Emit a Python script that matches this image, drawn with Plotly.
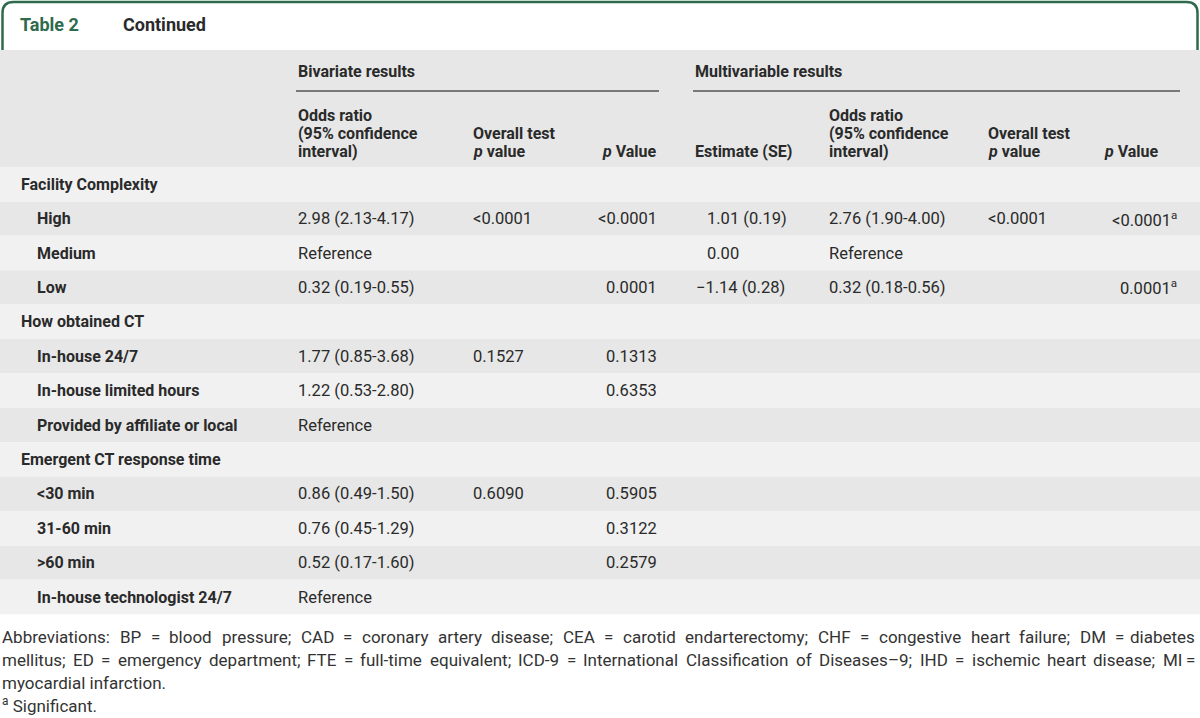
import plotly.graph_objects as go

# ---- table content ----
row_labels = [
    "Facility Complexity", "High", "Medium", "Low",
    "How obtained CT", "In-house 24/7", "In-house limited hours",
    "Provided by affiliate or local",
    "Emergent CT response time", "&lt;30 min", "31-60 min", "&gt;60 min",
    "In-house technologist 24/7",
]
row_is_group = [True, False, False, False, True, False, False, False,
                True, False, False, False, False]

biv_or = ["", "2.98 (2.13-4.17)", "Reference", "0.32 (0.19-0.55)",
          "", "1.77 (0.85-3.68)", "1.22 (0.53-2.80)", "Reference",
          "", "0.86 (0.49-1.50)", "0.76 (0.45-1.29)", "0.52 (0.17-1.60)", "Reference"]
biv_overall = ["", "&lt;0.0001", "", "", "", "0.1527", "", "",
               "", "0.6090", "", "", ""]
biv_p = ["", "&lt;0.0001", "", "0.0001", "", "0.1313", "0.6353", "",
         "", "0.5905", "0.3122", "0.2579", ""]

mv_est = ["", "1.01 (0.19)", "0.00", "−1.14 (0.28)"] + [""] * 9
mv_or = ["", "2.76 (1.90-4.00)", "Reference", "0.32 (0.18-0.56)"] + [""] * 9
mv_overall = ["", "&lt;0.0001", "", ""] + [""] * 9
mv_p = ["", "&lt;0.0001", "", "0.0001"] + [""] * 9
mv_sig = [False, True, False, True] + [False] * 9

group_headers = ["Bivariate results", "Multivariable results"]

footnote_line1 = ("Abbreviations: BP = blood pressure; CAD = coronary artery disease; "
                  "CEA = carotid endarterectomy; CHF = congestive heart failure; DM = diabetes")
footnote_line2 = ("mellitus; ED = emergency department; FTE = full-time equivalent; "
                  "ICD-9 = International Classification of Diseases–9; "
                  "IHD = ischemic heart disease; MI =")
footnote_line3 = "myocardial infarction."
footnote_sig = "<sup>a</sup> Significant."

# ---- layout constants ----
W, H = 1200, 718
GREEN = "#2e6b4c"
TXT = "#2a2a2a"
DARK = "#e6e7e6"
LIGHT = "#f1f1f1"
FONT = "Roboto"
FS = 16

header_top, header_bot = 50, 167
row_h = 34.4

# rough Roboto advance widths (em) – only used to justify the footnote lines
ROBOTO_W = {
    " ": .248, "(": .342, ")": .348, "-": .276, "–": .675, ".": .263, ":": .242,
    ";": .212, "=": .549, "A": .652, "B": .622, "C": .651, "D": .655, "E": .568,
    "F": .553, "H": .713, "I": .272, "M": .873, "P": .632, "T": .610,
    "a": .544, "b": .561, "c": .523, "d": .564, "e": .530, "f": .347, "g": .561,
    "h": .551, "i": .243, "k": .507, "l": .243, "m": .876, "n": .552, "o": .570,
    "p": .561, "q": .568, "r": .338, "s": .516, "t": .327, "u": .551, "v": .484,
    "w": .751, "x": .496, "y": .473, "z": .496,
}

fig = go.Figure()
shapes = []
ann = []


def text(x, y, s, anchor="left", bold=False, color=TXT, size=FS):
    if bold:
        s = f"<b>{s}</b>"
    ann.append(dict(x=x, y=y, xref="x", yref="y", text=s, showarrow=False,
                    xanchor=anchor, yanchor="middle",
                    font=dict(family=FONT, size=size, color=color)))


def justified(line, y, size, color, x0=0, x1=1197):
    words = line.split(" ")
    widths = [sum(ROBOTO_W.get(c, 0.56) for c in w) * size for w in words]
    gap = (x1 - x0 - sum(widths)) / (len(words) - 1)
    x = x0
    for w, wd in zip(words[:-1], widths[:-1]):
        text(x, y, w, color=color, size=size)
        x += wd + gap
    text(x1, y, words[-1], anchor="right", color=color, size=size)


# title band with green frame
shapes.append(dict(type="path", xref="x", yref="y",
                   path="M 2.5,50 L 2.5,13 Q 2.5,2 13.5,2 L 1186.5,2 "
                        "Q 1197.5,2 1197.5,13 L 1197.5,50",
                   line=dict(color=GREEN, width=2.5)))
text(18, 24, "Table 2", bold=True, color=GREEN, size=18)
text(121, 24, "Continued", bold=True, size=18)

# header band
shapes.append(dict(type="rect", xref="x", yref="y", x0=0, x1=W,
                   y0=header_top, y1=header_bot, fillcolor=DARK, line_width=0,
                   layer="below"))

text(296, 71, group_headers[0], bold=True)
text(693, 71, group_headers[1], bold=True)
for x0, x1 in [(296, 659), (693, 1180)]:
    shapes.append(dict(type="line", xref="x", yref="y", x0=x0, x1=x1,
                       y0=91, y1=91, line=dict(color="#555555", width=1.5)))

l1, l2, l3 = 115, 133, 151
for x in (296, 827):
    text(x, l1, "Odds ratio", bold=True)
    text(x, l2, "(95% confidence", bold=True)
    text(x, l3, "interval)", bold=True)
for x in (471, 986):
    text(x, l2, "Overall test", bold=True)
    text(x, l3, "<i>p</i> value", bold=True)
text(659, l3, "<i>p</i> Value", anchor="right", bold=True)
text(693, l3, "Estimate (SE)", bold=True)
text(1161, l3, "<i>p</i> Value", anchor="right", bold=True)

# body rows
VS = 16.5
for i, lab in enumerate(row_labels):
    y0 = header_bot + i * row_h
    yc = y0 + row_h / 2
    shapes.append(dict(type="rect", xref="x", yref="y", x0=0, x1=W,
                       y0=y0, y1=y0 + row_h,
                       fillcolor=LIGHT if i % 2 == 0 else DARK,
                       line_width=0, layer="below"))
    text(19 if row_is_group[i] else 35, yc, lab, bold=True)
    if biv_or[i]:
        text(296, yc, biv_or[i], size=VS)
    if biv_overall[i]:
        text(471, yc, biv_overall[i], size=VS)
    if biv_p[i]:
        text(659, yc, biv_p[i], anchor="right", size=VS)
    if mv_est[i]:
        # decimal alignment: the minus sign hangs to the left
        text(705 - (11 if mv_est[i].startswith("−") else 0), yc, mv_est[i], size=VS)
    if mv_or[i]:
        text(827, yc, mv_or[i], size=VS)
    if mv_overall[i]:
        text(986, yc, mv_overall[i], size=VS)
    if mv_p[i]:
        if mv_sig[i]:
            text(1179, yc, mv_p[i] + "<sup>a</sup>", anchor="right", size=VS)
        else:
            text(1163, yc, mv_p[i], anchor="right", size=VS)

# footnotes (first two lines justified as in the print layout)
fn_color = "#333333"
FN = 17
justified(footnote_line1, 637, FN, fn_color)
justified(footnote_line2, 660, FN, fn_color)
text(0, 683, footnote_line3, color=fn_color, size=FN)
text(0, 705, footnote_sig, color=fn_color, size=FN)

fig.update_layout(
    width=W, height=H,
    margin=dict(l=0, r=0, t=0, b=0),
    paper_bgcolor="white", plot_bgcolor="white",
    xaxis=dict(range=[0, W], visible=False, fixedrange=True),
    yaxis=dict(range=[H, 0], visible=False, fixedrange=True),
    shapes=shapes, annotations=ann, showlegend=False,
)

# the page body has a default 8px margin; drop it so the figure fills the window
fig.write_html("out.html", config={"displayModeBar": False},
               post_script="document.body.style.margin='0';")
